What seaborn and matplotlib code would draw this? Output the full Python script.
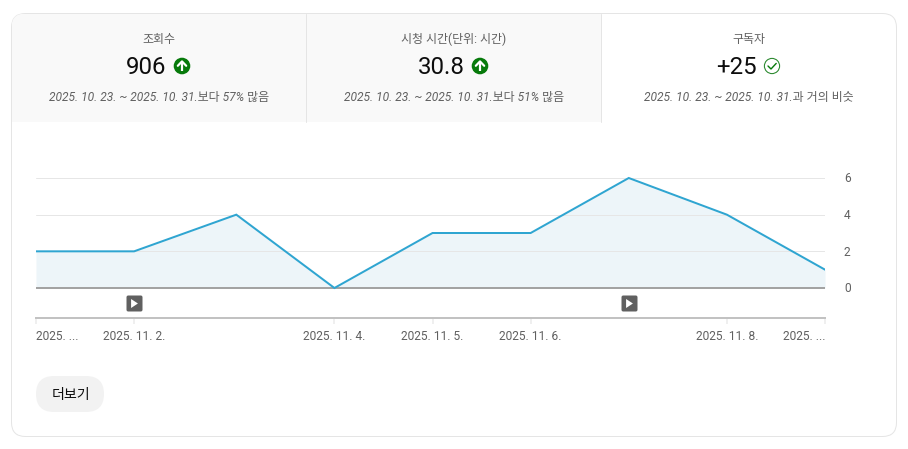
import matplotlib
matplotlib.use("Agg")
import matplotlib.pyplot as plt
from matplotlib.patches import FancyBboxPatch, Rectangle, Circle
from matplotlib.markers import MarkerStyle
from matplotlib.transforms import ScaledTranslation
import pandas as pd
import seaborn as sns

# hours since the first day; the 2 Nov day is 25 hours long (clock change)
day_hours = [0, 24, 49, 73, 97, 121, 145, 169, 193]
subscribers = [2, 2, 4, 0, 3, 3, 6, 4, 1]
tick_hours = [0, 24, 73, 97, 121, 169, 193]
tick_labels = ["2025. ...", "2025. 11. 2.", "2025. 11. 4.", "2025. 11. 5.",
               "2025. 11. 6.", "2025. 11. 8.", "2025. ..."]
y_ticks = [0, 2, 4, 6]
video_hours = [24, 145]
tab_titles = ["조회수", "시청 시간(단위: 시간)", "구독자"]
tab_values = ["906", "30.8", "+25"]
tab_notes = ["2025. 10. 23. ~ 2025. 10. 31.보다 57% 많음",
             "2025. 10. 23. ~ 2025. 10. 31.보다 51% 많음",
             "2025. 10. 23. ~ 2025. 10. 31.과 거의 비슷"]
button_label = "더보기"

sns.set_theme(style="white")
FONT = ["Roboto", "Noto Sans CJK KR", "DejaVu Sans"]
plt.rcParams["font.family"] = FONT
W, H = 908, 449
PT = 72 / 100

fig = plt.figure(figsize=(W / 100, H / 100), dpi=100, facecolor="white")

# card layer in pixel coordinates
bg = fig.add_axes([0, 0, 1, 1], zorder=0)
bg.set_xlim(0, W)
bg.set_ylim(H, 0)
bg.axis("off")

card = FancyBboxPatch((11.5 + 14, 13.5 + 14), 885 - 28, 423 - 28,
                      boxstyle="round,pad=14,rounding_size=14",
                      fc="white", ec="#e5e5e5", lw=1 * PT, zorder=1)
bg.add_patch(card)
tabs = Rectangle((12, 14), 589, 108, fc="#f9f9f9", ec="none", zorder=2)
bg.add_patch(tabs)
tabs.set_clip_path(card)
for sx in (305.9, 600.9):
    bg.plot([sx, sx], [14, 122], color="#e5e5e5", lw=1 * PT, zorder=3)

centers = [159, 454, 749]
icon_x = [182, 480, 772]
value_x = [146, 441.5, 736.5]
for cx, vx, title, value, note in zip(centers, value_x, tab_titles, tab_values, tab_notes):
    bg.text(cx, 39.5, title, ha="center", va="center", fontsize=12 * PT, color="#606060", zorder=5)
    bg.text(vx, 68, value, ha="center", va="center", fontsize=24 * PT, color="#0d0d0d", zorder=5)
    bg.text(cx, 97, note, ha="center", va="center", fontsize=12 * PT, style="italic",
            color="#606060", zorder=5)
for ix in icon_x[:2]:
    bg.add_patch(Circle((ix, 66), 8.3, fc="#077a0b", ec="none", zorder=5))
    bg.plot([ix, ix], [71, 62], color="white", lw=2.2 * PT, zorder=6, solid_capstyle="butt")
    bg.plot([ix - 4.2, ix, ix + 4.2], [65.8, 61.4, 65.8], color="white", lw=2.2 * PT, zorder=6)
ix = icon_x[2]
bg.add_patch(Circle((ix, 66), 7.6, fc="none", ec="#2e8b32", lw=1.1 * PT, zorder=5))
bg.plot([ix - 4, ix - 1, ix + 4.2], [66, 69, 63.4], color="#077a0b", lw=1.4 * PT, zorder=6)

bg.add_patch(FancyBboxPatch((36 + 18, 376 + 18), 68 - 36, 0,
                            boxstyle="round,pad=18,rounding_size=18",
                            fc="#f2f2f2", ec="none", zorder=3))
bg.text(70.5, 394.5, button_label, ha="center", va="center", fontsize=14 * PT, color="#0d0d0d", zorder=5)

# chart layer
px_left, px_right, px_top, px_bottom = 36, 825, 160, 318
ax = fig.add_axes([px_left / W, 1 - px_bottom / H, (px_right - px_left) / W, (px_bottom - px_top) / H], zorder=2)
ax.patch.set_alpha(0)
unit = (288 - 178) / 6
ax.set_ylim(-(px_bottom - 288) / unit, (288 - px_top) / unit)
ax.set_xlim(day_hours[0], day_hours[-1])

df = pd.DataFrame({"hour": day_hours, "subs": subscribers})
ax.fill_between(df["hour"], df["subs"], 0, color="#edf5f9", lw=0, zorder=1)
for v in y_ticks[1:]:
    ax.axhline(v, color="#e6e6e6", lw=1 * PT, zorder=1.5)
ax.axhline(0, color="#a3a3a3", lw=2 * PT, zorder=2)
sns.lineplot(data=df, x="hour", y="subs", ax=ax, color="#2fa5d1", lw=2 * PT, zorder=3,
             errorbar=None, solid_joinstyle="miter")

y_icon = -(303 - 288) / unit
box = ax.scatter(video_hours, [y_icon] * len(video_hours), marker=MarkerStyle("s", joinstyle="round"),
                 s=(13 * PT) ** 2, c="#606060", edgecolors="#606060", linewidths=3 * PT, zorder=4, clip_on=False)
play = ax.scatter(video_hours, [y_icon] * len(video_hours),
                  marker=[(-0.38, -0.5), (0.38, 0), (-0.38, 0.5)],
                  s=(9 * PT) ** 2, c="white", linewidths=0, zorder=5, clip_on=False)
box.set_snap(False)
play.set_snap(False)

for s in ("top", "left", "right"):
    ax.spines[s].set_visible(False)
ax.spines["bottom"].set_color("#c2c2c2")
ax.spines["bottom"].set_linewidth(2 * PT)

ax.set_xlabel("")
ax.set_ylabel("")
ax.set_xticks(tick_hours)
ax.set_xticklabels(tick_labels)
ax.tick_params(axis="x", length=6 * PT, width=1.5 * PT, color="#eaeaea", pad=6 * PT,
               labelsize=12 * PT, labelcolor="#606060", bottom=True)
labels = ax.get_xticklabels()
labels[0].set_ha("left")
labels[-1].set_ha("right")
ax.yaxis.tick_right()
ax.set_yticks(y_ticks)
ax.set_yticklabels([str(v) for v in y_ticks])
ax.tick_params(axis="y", length=0, pad=19 * PT, labelsize=12 * PT, labelcolor="#606060")
for lab in ax.get_yticklabels():
    lab.set_transform(lab.get_transform() + ScaledTranslation(0, 0.8 / 100, fig.dpi_scale_trans))

fig.savefig("out.png", dpi=100, facecolor="white")
